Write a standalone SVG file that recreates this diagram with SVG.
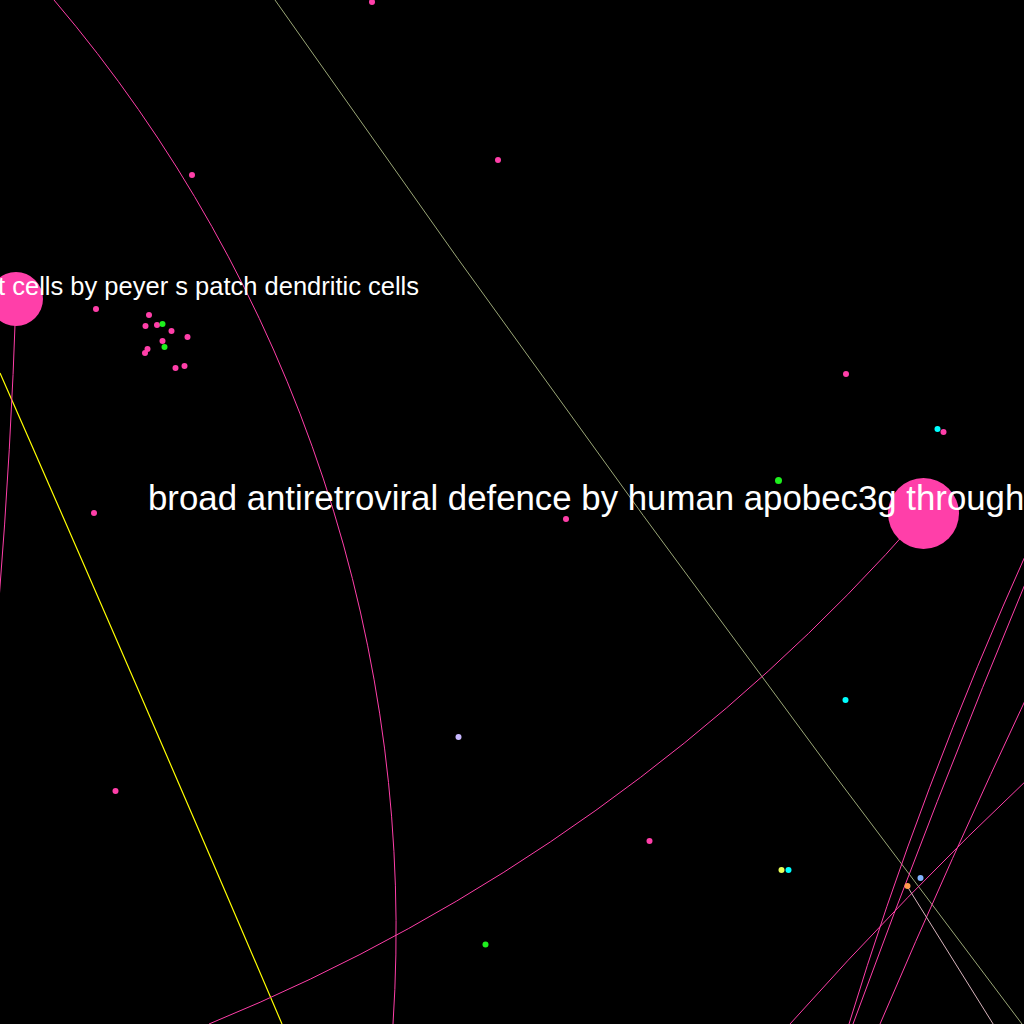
<svg xmlns="http://www.w3.org/2000/svg" width="1024" height="1024" viewBox="0 0 1024 1024">
<style>
.bg{fill:#000}
.e{fill:none;stroke-width:1}
.pk{stroke:#ff3fa9}
.yl{stroke:#ffff00;stroke-width:1.2}
.ol{stroke:#9aa676}
.gp{stroke:#d8b4bc}
.n{stroke:none}
.p{fill:#ff3fa9}
.g{fill:#1ef01e}
.c{fill:#00ffff}
.lab{fill:#ffffff;font-family:"Liberation Sans",Arial,sans-serif}
</style>
<rect class="bg" x="0" y="0" width="1024" height="1024"/>
<g id="connectors">
<path class="e pk" d="M 54 0 A 1435 1435 0 0 1 393 1024"/>
<path class="e ol" d="M 275 0 Q 638 519 1022 1024"/>
<path class="e yl" d="M 0 373 Q 135 680 282 1024"/>
<path class="e pk" d="M 16 299 Q 11 450 -1 600"/>
<path class="e pk" d="M 923 513 A 1901 1901 0 0 1 209 1024"/>
<path class="e pk" d="M 1030 545 Q 920 790 849 1024"/>
<path class="e pk" d="M 1030 572 Q 933 805 853 1024"/>
<path class="e pk" d="M 1030 690 Q 950 860 880 1024"/>
<path class="e pk" d="M 1030 777 Q 905 895 790 1024"/>
<path class="e gp" d="M 907 886 L 1000 1035"/>
</g>
<g id="nodes">
<g id="n-peyer"><circle class="n p" cx="16" cy="299" r="27"/></g>
<g id="n-apobec"><circle class="n p" cx="923.5" cy="513.5" r="35.5"/></g>
<g id="n1"><circle class="n p" cx="372" cy="2" r="3"/></g>
<g id="n2"><circle class="n p" cx="498" cy="160" r="3"/></g>
<g id="n3"><circle class="n p" cx="192" cy="175" r="3"/></g>
<g id="n4"><circle class="n p" cx="96" cy="309" r="3"/></g>
<g id="n5"><circle class="n p" cx="149" cy="315" r="3"/></g>
<g id="n6"><circle class="n p" cx="145.5" cy="326" r="3"/></g>
<g id="n7"><circle class="n p" cx="157" cy="325" r="3"/></g>
<g id="n8"><circle class="n g" cx="162.5" cy="324" r="3"/></g>
<g id="n9"><circle class="n p" cx="171.5" cy="331" r="3"/></g>
<g id="n10"><circle class="n p" cx="187.5" cy="337" r="3"/></g>
<g id="n11"><circle class="n p" cx="162.5" cy="341" r="3"/></g>
<g id="n12"><circle class="n g" cx="164.5" cy="347" r="3"/></g>
<g id="n13"><circle class="n p" cx="147.5" cy="349" r="3"/></g>
<g id="n14"><circle class="n p" cx="145" cy="353" r="3"/></g>
<g id="n15"><circle class="n p" cx="175.5" cy="368" r="3"/></g>
<g id="n16"><circle class="n p" cx="184.5" cy="366" r="3"/></g>
<g id="n17"><circle class="n p" cx="846" cy="374" r="3"/></g>
<g id="n18"><circle class="n c" cx="937.5" cy="429" r="3"/></g>
<g id="n19"><circle class="n p" cx="943.5" cy="432" r="3"/></g>
<g id="n20"><circle class="n g" cx="778.5" cy="480.5" r="3.5"/></g>
<g id="n21"><circle class="n p" cx="566" cy="519" r="3"/></g>
<g id="n22"><circle class="n p" cx="94" cy="513" r="3"/></g>
<g id="n23"><circle class="n c" cx="845.5" cy="700" r="3"/></g>
<g id="n24"><circle class="n" fill="#c8b8ff" cx="458.5" cy="737" r="3"/></g>
<g id="n25"><circle class="n p" cx="115.5" cy="791" r="3"/></g>
<g id="n26"><circle class="n p" cx="649.5" cy="841" r="3"/></g>
<g id="n27"><circle class="n" fill="#e8ff5a" cx="781.5" cy="870" r="3"/></g>
<g id="n28"><circle class="n c" cx="788.5" cy="870" r="3"/></g>
<g id="n29"><circle class="n" fill="#ff9a4c" cx="907.5" cy="886" r="3"/></g>
<g id="n30"><circle class="n" fill="#80b4ff" cx="920.5" cy="878" r="3"/></g>
<g id="n31"><circle class="n g" cx="485.5" cy="944.5" r="3"/></g>
</g>
<g id="labels">
<text class="lab" x="419" y="295" font-size="25.5" text-anchor="end">t cells by peyer s patch dendritic cells</text>
<text class="lab" x="148" y="510" font-size="34.8">broad antiretroviral defence by human apobec3g through</text>
</g>
</svg>
